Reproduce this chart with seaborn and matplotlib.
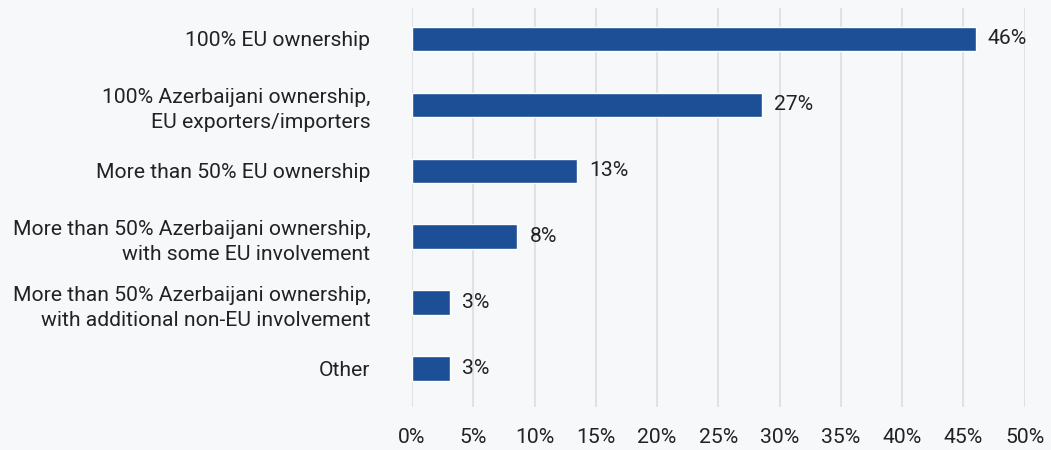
import matplotlib
matplotlib.use("Agg")
import matplotlib.pyplot as plt
import seaborn as sns
import pandas as pd

categories = [
    "100% EU ownership",
    "100% Azerbaijani ownership,\nEU exporters/importers",
    "More than 50% EU ownership",
    "More than 50% Azerbaijani ownership,\nwith some EU involvement",
    "More than 50% Azerbaijani ownership,\nwith additional non-EU involvement",
    "Other",
]
values = [46.0, 28.6, 13.5, 8.6, 3.1, 3.1]
value_labels = ["46%", "27%", "13%", "8%", "3%", "3%"]
xticks = [0, 5, 10, 15, 20, 25, 30, 35, 40, 45, 50]
xtick_labels = [f"{t}%" for t in xticks]

BG = "#f7f8fa"
BAR = "#1c4f96"
TEXT = "#222222"
GRID = "#e0e1e4"
FS = 15.2

sns.set_theme(style="white")
plt.rcParams["font.family"] = ["Roboto", "DejaVu Sans"]

df = pd.DataFrame({"category": categories, "value": values})

fig = plt.figure(figsize=(10.51, 4.5), dpi=100, facecolor=BG)
ax = fig.add_axes([412 / 1051, 1 - 406.7 / 450, (1024.7 - 412) / 1051, (406.7 - 8) / 450])
ax.set_facecolor(BG)

sns.barplot(data=df, x="value", y="category", color=BAR, saturation=1,
            width=0.37, ax=ax, orient="h")

ax.set_xlim(0, 50)
ax.set_ylim(5.58, -0.47)
ax.set_xticks(xticks)
ax.set_xticklabels(xtick_labels, fontsize=FS, color=TEXT)
ax.tick_params(axis="x", length=0, pad=15)
ax.tick_params(axis="y", length=0, pad=30, labelsize=FS, labelcolor=TEXT)
for t in ax.get_yticklabels():
    t.set_linespacing(1.4)
ax.set_xlabel("")
ax.set_ylabel("")
ax.grid(axis="x", color=GRID, linewidth=1.5)
ax.set_axisbelow(True)
for s in ax.spines.values():
    s.set_visible(False)

for i, (v, lab) in enumerate(zip(values, value_labels)):
    ax.annotate(lab, xy=(v, i), xytext=(12, 0), textcoords="offset pixels",
                va="center", ha="left", fontsize=FS, color=TEXT)

fig.savefig("out.png", dpi=100, facecolor=BG)
